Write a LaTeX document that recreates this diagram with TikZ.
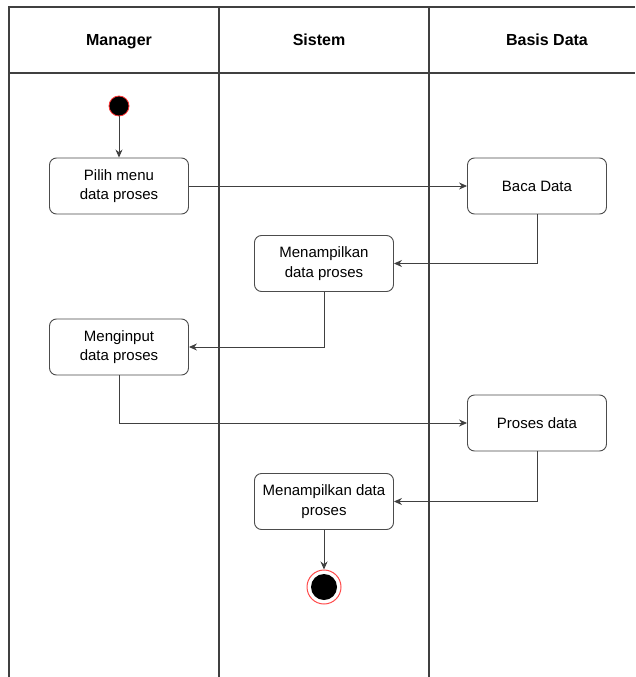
\documentclass[tikz,border=0pt]{standalone}
\usepackage{fontspec}
\setmainfont{Liberation Sans}
\usetikzlibrary{arrows.meta}
\begin{document}
\begin{tikzpicture}[x=1pt,y=-1pt,
  lane/.style={draw=black!75,line width=1.4pt},
  act/.style={draw=black!70,line width=0.9pt,rounded corners=7pt,fill=white,
    minimum width=139pt,minimum height=56pt,align=center,font=\fontsize{15}{19.5}\selectfont,inner sep=2pt},
  hdr/.style={font=\bfseries\fontsize{16}{19}\selectfont,text height=11pt,text depth=0pt},
  flow/.style={draw=black!75,line width=0.9pt,-{Stealth[length=8pt,width=7pt]}}]
\useasboundingbox (0,0) rectangle (635,677);
\fill[white] (0,0) rectangle (635,677);
% swimlane table
\draw[lane] (9,677) -- (9,7) -- (635,7);
\draw[lane] (9,73) -- (635,73);
\draw[lane] (219,7) -- (219,677);
\draw[lane] (429,7) -- (429,677);
\node[hdr] (h1) at (119,40) {Manager};
\node[hdr] (h2) at (319,40) {Sistem};
\node[hdr] (h3) at (547,40) {Basis Data};
% nodes
\node[circle,fill=black,draw=red!80,line width=0.8pt,minimum size=20pt,inner sep=0pt] (start) at (119,106) {};
\node[act] (pilih) at (119,186) {Pilih menu\\data proses};
\node[act] (baca) at (537,186) {Baca Data};
\node[act] (tampil1) at (324,263.5) {Menampilkan\\data proses};
\node[act] (input) at (119,347) {Menginput\\data proses};
\node[act] (proses) at (537,423) {Proses data};
\node[act] (tampil2) at (324,501.5) {Menampilkan data\\proses};
\node[circle,draw=red!70,line width=1pt,minimum size=34pt,inner sep=0pt] (end) at (324,587) {};
\node[circle,fill=black,minimum size=26pt,inner sep=0pt] (endin) at (end.center) {};
% connectors
\draw[flow] (start) -- (pilih);
\draw[flow] (pilih) -- (baca);
\draw[flow] (baca.south) |- (tampil1.east);
\draw[flow] (tampil1.south) |- (input.east);
\draw[flow] (input.south) |- (proses.west);
\draw[flow] (proses.south) |- (tampil2.east);
\draw[flow] (tampil2) -- (end);
\end{tikzpicture}
\end{document}
